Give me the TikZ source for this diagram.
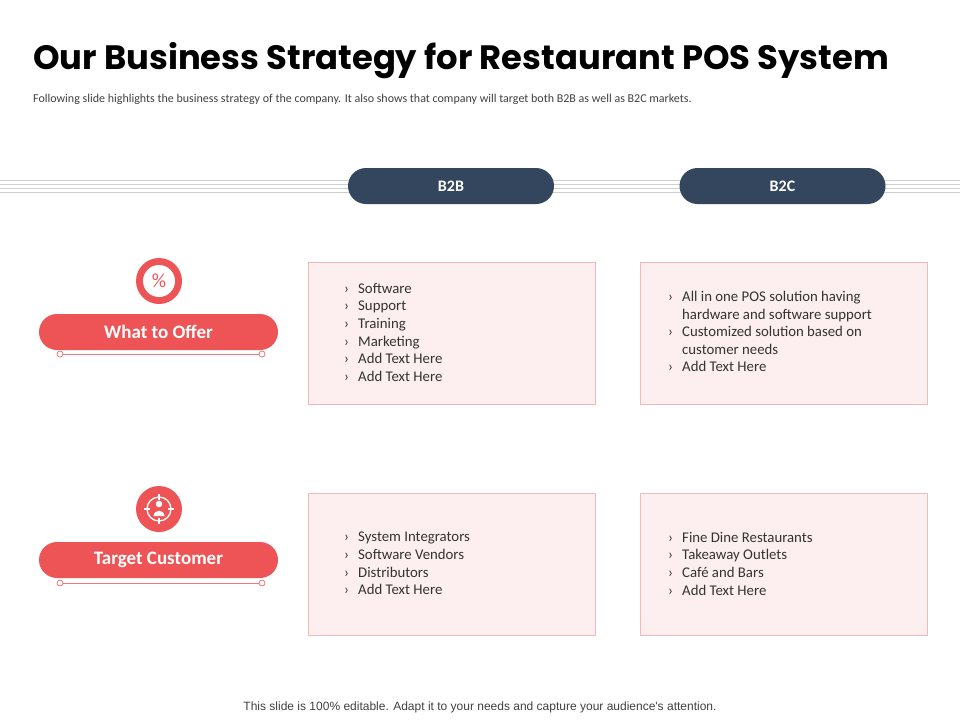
\documentclass[tikz,border=0pt]{standalone}
\usepackage{fontspec}
\setmainfont{Carlito}
\newfontfamily\titlefont{Poppins}
\newfontfamily\footfont{Liberation Sans}
\definecolor{navy}{HTML}{33465E}
\definecolor{redc}{HTML}{EE5455}
\definecolor{boxfill}{HTML}{FDEEEF}
\definecolor{boxline}{HTML}{F0B9BA}
\definecolor{grayline}{HTML}{CFCFCF}
\tikzset{
  pxbox/.style={draw=boxline,fill=boxfill,line width=1pt,minimum width=287pt,minimum height=142pt,inner sep=0pt},
  colhead/.style={fill=navy,rounded corners=18pt,minimum width=206pt,minimum height=36pt,text=white,font=\fontsize{16}{18}\selectfont\bfseries},
  rowhead/.style={fill=redc,rounded corners=18pt,minimum width=239pt,minimum height=36pt,text=white,font=\fontsize{19}{20}\selectfont\bfseries},
  icon/.style={circle,fill=redc,minimum size=46pt,inner sep=0pt},
  lst/.style={anchor=north west,align=left,font=\fontsize{14.8}{17.6}\selectfont,text=black!80,inner sep=0pt},
  dot/.style={circle,draw=redc!80,fill=white,line width=0.8pt,minimum size=6pt,inner sep=0pt}
}
\begin{document}
\begin{tikzpicture}[x=1pt,y=-1pt]
\useasboundingbox (0,0) rectangle (960,720);
\node[anchor=base west,inner sep=0pt,font=\titlefont\fontsize{33.8}{38}\selectfont\bfseries] (title) at (33,69) {Our Business Strategy for Restaurant POS System};
\node[anchor=west,inner sep=0pt,font=\fontsize{12}{14}\selectfont,text=black!75] (sub) at (33,99) {Following slide highlights the business strategy of the company. It also shows that company will target both B2B as well as B2C markets.};
\foreach \y in {180,184,188,192}{\draw[grayline,line width=0.8pt] (0,\y) -- (960,\y);}
\node[colhead] (b2b) at (451,186) {B2B};
\node[colhead] (b2c) at (782.5,186) {B2C};
% row 1
\node[icon] (i1) at (159,281) {};
\node[circle,fill=white,minimum size=32pt,inner sep=0pt] (i1w) at (i1) {};
\node[text=redc,font=\fontsize{20}{20}\selectfont] (pc) at (i1) {\%};
\node[rowhead] (r1) at (158.5,332) {What to Offer};
\node[dot] (d1a) at (60,354) {};
\node[dot] (d1b) at (262,354) {};
\draw[redc!80,line width=0.8pt] (d1a) -- (d1b);
% row 2
\node[icon] (i2) at (159,509) {};
\node[circle,draw=white,line width=1.3pt,minimum size=24pt,inner sep=0pt] (i2c) at (i2) {};
\draw[white,line width=1.3pt] (159,494) -- (159,500) (159,518) -- (159,524) (144,509) -- (150,509) (168,509) -- (174,509);
\fill[white] (159,504) circle (3.3pt);
\fill[white] (153.5,516) .. controls (154,509) and (164,509) .. (164.5,516) -- cycle;
\node[rowhead] (r2) at (158.5,560) {Target Customer};
\node[dot] (d2a) at (60,583) {};
\node[dot] (d2b) at (262,583) {};
\draw[redc!80,line width=0.8pt] (d2a) -- (d2b);
% boxes
\node[pxbox] (bx1) at (451.5,333) {};
\node[pxbox] (bx2) at (783.5,333) {};
\node[pxbox] (bx3) at (451.5,564) {};
\node[pxbox] (bx4) at (783.5,564) {};
\node[lst] (t1) at (344,283) {\makebox[14pt][l]{›}Software\\\makebox[14pt][l]{›}Support\\\makebox[14pt][l]{›}Training\\\makebox[14pt][l]{›}Marketing\\\makebox[14pt][l]{›}Add Text Here\\\makebox[14pt][l]{›}Add Text Here};
\node[lst] (t2) at (668,291) {\makebox[14pt][l]{›}All in one POS solution having\\\makebox[14pt][l]{}hardware and software support\\\makebox[14pt][l]{›}Customized solution based on\\\makebox[14pt][l]{}customer needs\\\makebox[14pt][l]{›}Add Text Here};
\node[lst] (t3) at (344,532) {\makebox[14pt][l]{›}System Integrators\\\makebox[14pt][l]{›}Software Vendors\\\makebox[14pt][l]{›}Distributors\\\makebox[14pt][l]{›}Add Text Here};
\node[lst] (t4) at (668,532) {\makebox[14pt][l]{›}Fine Dine Restaurants\\\makebox[14pt][l]{›}Takeaway Outlets\\\makebox[14pt][l]{›}Café and Bars\\\makebox[14pt][l]{›}Add Text Here};
\node[font=\footfont\fontsize{12}{13}\selectfont,text=black!75] (foot) at (480,707) {This slide is 100\% editable. Adapt it to your needs and capture your audience's attention.};
\end{tikzpicture}
\end{document}
